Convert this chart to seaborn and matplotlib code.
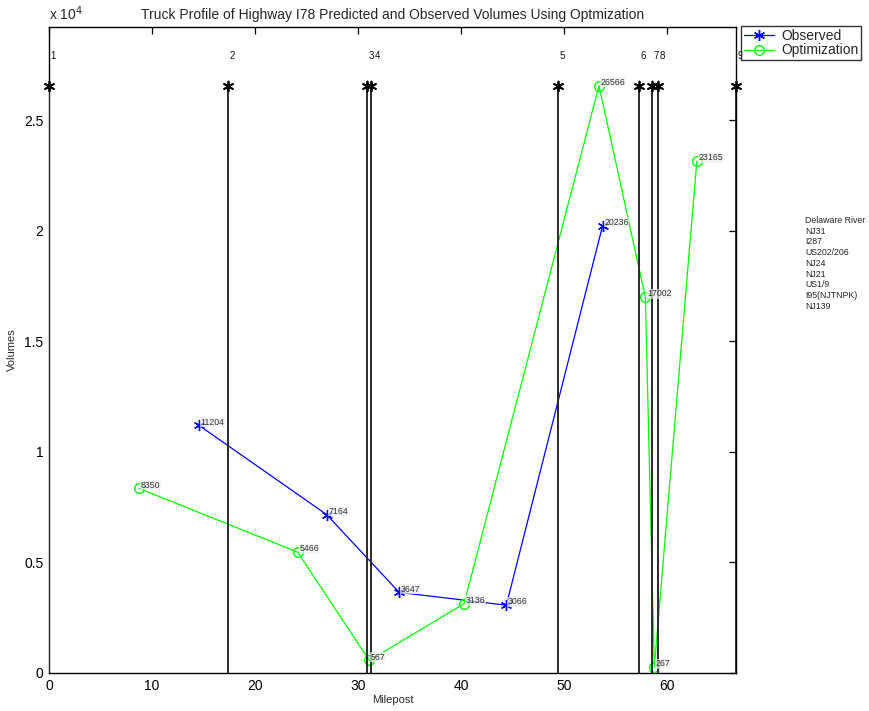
import numpy as np
import pandas as pd
import matplotlib
matplotlib.use("Agg")
import matplotlib.pyplot as plt
from matplotlib.ticker import FixedLocator, FuncFormatter
import seaborn as sns

# Observed truck volumes along I78
obs_milepost = [14.56, 26.96, 34.0, 44.4, 53.75]
obs_volume = [11204, 7164, 3647, 3066, 20236]

# Volumes predicted by the optimization model
opt_milepost = [8.74, 24.15, 31.1, 40.3, 53.4, 57.9, 58.77, 62.9]
opt_volume = [8350, 5466, 567, 3136, 26566, 17002, 267, 23165]

# Interchange locations
interchange_milepost = [0.0, 17.4, 30.9, 31.25, 49.45, 57.3, 58.5, 59.1, 66.7]
interchange_id = ["1", "2", "3", "4", "5", "6", "7", "8", "9"]
interchange_name = ["Delaware River", "NJ31", "I287", "US202/206", "NJ24",
                    "NJ21", "US1/9", "I95(NJTNPK)", "NJ139"]

y_ticks = [0, 5000, 10000, 15000, 20000, 25000]
y_tick_labels = ["0", "0.5", "1", "1.5", "2", "2.5"]
x_ticks = [0, 10, 20, 30, 40, 50, 60]

sns.set_style("white")
plt.rcParams["font.family"] = ["Liberation Sans", "DejaVu Sans"]

fig = plt.figure(figsize=(8.69, 7.11), dpi=100)
ax = fig.add_axes([49 / 869, 38 / 711, (736 - 49) / 869, (673 - 27) / 711])

vmax = max(max(obs_volume), max(opt_volume))

obs_df = pd.DataFrame({"Milepost": obs_milepost, "Volumes": obs_volume})
opt_df = pd.DataFrame({"Milepost": opt_milepost, "Volumes": opt_volume})

sns.lineplot(data=obs_df, x="Milepost", y="Volumes", sort=False, ax=ax,
             color="#0000ff", linewidth=0.9, marker=(6, 2, 0),
             markersize=8, markeredgewidth=1.0, markeredgecolor="#0000ff",
             label="Observed", zorder=3)
sns.lineplot(data=opt_df, x="Milepost", y="Volumes", sort=False, ax=ax,
             color="#00ff00", linewidth=0.9, marker="o", markersize=7,
             markerfacecolor="none", markeredgewidth=1.0,
             markeredgecolor="#00ff00", label="Optimization", zorder=3)

# Interchange markers: vertical bars topped with an asterisk
ax.vlines(interchange_milepost, 0, vmax, colors="#2a2a2a", linewidth=1.4,
          zorder=4)
int_df = pd.DataFrame({"Milepost": interchange_milepost,
                       "Volumes": [vmax] * len(interchange_milepost)})
sns.scatterplot(data=int_df, x="Milepost", y="Volumes", ax=ax,
                marker=(6, 2, 0), s=50, color="black", linewidth=1.3,
                edgecolor="black", zorder=5, clip_on=False, legend=False)
for xm, lab in zip(interchange_milepost, interchange_id):
    dx = 0.4 if lab == "4" else 0.15
    ax.text(xm + dx, vmax * 1.05, lab, fontsize=7, ha="left", va="center",
            color="#111111", clip_on=False)

# Value labels next to each point
for xm, v in zip(obs_milepost + opt_milepost, obs_volume + opt_volume):
    ax.text(xm + 0.15, v + 150, f"{v}", fontsize=6.3, ha="left", va="center",
            color="#333333", zorder=6,
            bbox=dict(facecolor="#eeeeee", edgecolor="none", pad=0.3,
                      alpha=0.7))

ax.set_xlim(0, 66.7)
ax.set_ylim(0, vmax * 1.1)
ax.xaxis.set_major_locator(FixedLocator(x_ticks))
ax.yaxis.set_major_locator(FixedLocator(y_ticks))
ax.yaxis.set_major_formatter(FuncFormatter(
    lambda v, p: dict(zip(y_ticks, y_tick_labels)).get(int(round(v)), "")))
ax.tick_params(direction="in", top=True, right=True, length=5, width=0.9,
               labelsize=10, colors="black", pad=4)
for s in ax.spines.values():
    s.set_color("black")
    s.set_linewidth(1.0)

ax.set_xlabel("Milepost", fontsize=8, labelpad=2)
ax.set_ylabel("Volumes", fontsize=8, labelpad=5)
ax.set_title("Truck Profile of Highway I78 Predicted and Observed Volumes "
             "Using Optmization", fontsize=10, pad=6)
ax.text(0.0, 1.006, r"x 10$^4$", transform=ax.transAxes, fontsize=10,
        ha="left", va="bottom")

ax.get_legend().remove()
handles, labels = ax.get_legend_handles_labels()
leg = fig.legend(handles, labels, loc="upper left",
                 bbox_to_anchor=(741 / 869, (711 - 26) / 711),
                 fontsize=10, frameon=True, fancybox=False, shadow=False,
                 borderpad=0.2, labelspacing=0.05, handlelength=2.2,
                 handletextpad=0.5, borderaxespad=0.0)
leg.get_frame().set_edgecolor("black")
leg.get_frame().set_linewidth(1.0)

# Interchange names listed beside the plot
fig.text(805 / 869, (711 - 216) / 711, "\n".join(interchange_name),
         fontsize=6.3, ha="left", va="top", linespacing=1.25,
         color="#222222")

fig.savefig("out.png", dpi=100)
